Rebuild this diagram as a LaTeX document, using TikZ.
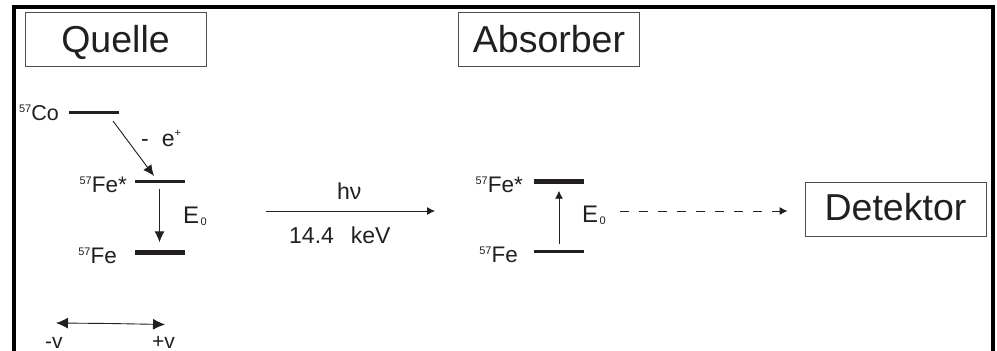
\documentclass[tikz,border=0pt]{standalone}
\usepackage{fontspec}
\setmainfont{Liberation Sans}
\usetikzlibrary{arrows.meta}
\definecolor{ink}{HTML}{231F20}
\newcommand{\fs}[1]{\fontsize{#1}{#1}\selectfont}
\newcommand{\iso}[2]{\raisebox{7.5pt}{\fs{11}57}\fs{#1}#2}
\newcommand{\Ezero}{\fs{24}E\hspace{1.5pt}\raisebox{-2pt}{\fs{11}0}}
\tikzset{
  x=1pt,y=-1pt,
  titlebox/.style={draw=ink!80,line width=0.9pt,minimum width=181pt,minimum height=54pt,inner sep=0pt,text=ink,font=\fs{37.5},text height=27pt,text depth=0pt},
  lvlthin/.style={fill=ink,inner sep=0pt,minimum width=50pt,minimum height=3pt},
  lvlthick/.style={fill=ink,inner sep=0pt,minimum width=50pt,minimum height=5pt},
  lab/.style={inner sep=0pt,text=ink,font=\fs{23}},
  conn/.style={draw=ink,line width=0.9pt,-{Latex[length=11pt,width=10pt]}},
  connsmall/.style={draw=ink,line width=0.9pt,-{Latex[length=8pt,width=8pt]}},
  velo/.style={draw=ink,line width=0.9pt,-{Latex[length=12pt,width=11pt]}},
}
\begin{document}
\begin{tikzpicture}
\useasboundingbox (0,0) rectangle (997,351);
\fill[white] (0,0) rectangle (997,351);
% frame, open at the bottom
\draw[black,line width=4pt,line cap=butt] (14,351) -- (14,7) -- (993,7) -- (993,351);
% boxes
\node[titlebox] (quelle) at (115.5,39) {Quelle};
\node[titlebox] (absorber) at (549,39) {Absorber};
\node[titlebox,text height=22pt] (detektor) at (895.5,209) {Detektor};
% source levels
\node[lvlthin] (co) at (94,112) {};
\node[lvlthin] (fes) at (160,181) {};
\node[lvlthick] (fe) at (160,252) {};
\node[lab,anchor=base east] (colab) at (59,120) {\iso{21.5}{Co}};
\node[lab,anchor=base east] (feslab) at (127,192) {\iso{22.5}{Fe*}};
\node[lab,anchor=base east] (felab) at (117,263) {\iso{22.5}{Fe}};
\node[lab,anchor=base west] (pos) at (141,146) {-\hspace{13pt}e\raisebox{10pt}{\fs{11}+}};
\node[lab,anchor=base west] (e1) at (183,223) {\Ezero};
% absorber levels
\node[lvlthick] (afes) at (559,181) {};
\node[lvlthin] (afe) at (559,251) {};
\node[lab,anchor=base east] (afeslab) at (523,192) {\iso{22.5}{Fe*}};
\node[lab,anchor=base east] (afelab) at (518,262) {\iso{22.5}{Fe}};
\node[lab,anchor=base west] (e2) at (582,222) {\Ezero};
% photon
\coordinate (hstart) at (266,211);
\coordinate (hend) at (435,211);
\node[lab,anchor=base west] (hnu) at (337,199) {hν};
\node[lab,anchor=base west] (kev) at (289,243) {14.4\hspace{17pt}keV};
% velocity
\coordinate (vmid) at (110,323.5);
\coordinate (vleft) at (56,323);
\coordinate (vright) at (165,324.5);
\node[lab,anchor=base west,font=\fs{21}] (vminus) at (45,348) {-v};
\node[lab,anchor=base west,font=\fs{21}] (vplus) at (152,348) {+v};
% connectors
\coordinate (decaystart) at (113,121);
\coordinate (decayend) at (154,176);
\draw[conn] (decaystart) -- (decayend);
\draw[conn] ([xshift=-0.5pt,yshift=-6pt]fes.south) -- ([xshift=-0.5pt,yshift=7pt]fe.north);
\draw[connsmall] ([yshift=5pt]afe.north) -- ([yshift=-7pt]afes.south);
\draw[connsmall] (hstart) -- (hend);
\coordinate (dashstart) at (620,211);
\coordinate (dashend) at (778,211);
\draw[draw=ink,line width=0.9pt,dash pattern=on 9pt off 10pt] (dashstart) -- (dashend);
\draw[connsmall] (dashend) -- ([xshift=-17pt]detektor.west |- hend);
\draw[velo] (vmid) -- (vleft);
\draw[velo] (vmid) -- (vright);
\end{tikzpicture}
\end{document}
